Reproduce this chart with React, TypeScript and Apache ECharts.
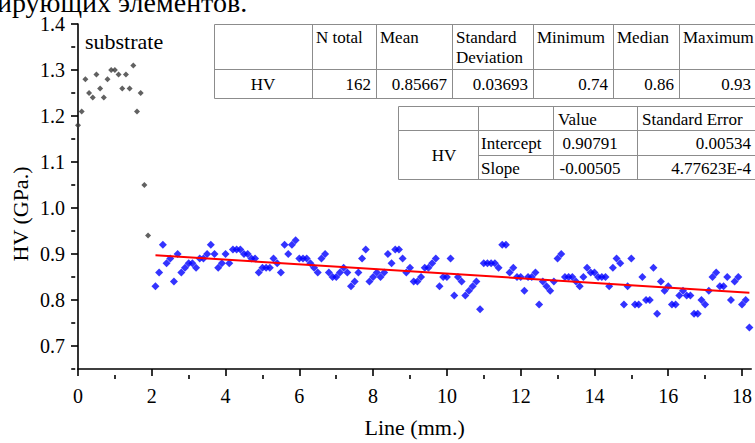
import React, { useEffect, useRef } from 'react';
import * as echarts from 'echarts';

const SERIF = "'Liberation Serif', 'Times New Roman', Times, serif";

// Substrate measurements (grey points)
const SUBSTRATE_X = [0, 0.1, 0.2, 0.3, 0.4, 0.5, 0.6, 0.7, 0.8, 0.9, 1.0, 1.1, 1.2, 1.3, 1.4, 1.5, 1.6, 1.7, 1.8, 1.9];
const SUBSTRATE_HV = [1.18, 1.21, 1.28, 1.25, 1.24, 1.29, 1.26, 1.24, 1.28, 1.30, 1.30, 1.29, 1.26, 1.29, 1.26, 1.31, 1.21, 1.25, 1.05, 0.94];

// Coating measurements (blue points), sampled every 0.1 mm from 2.1 mm
const COATING_X_START = 2.1;
const COATING_X_STEP = 0.1;
const COATING_HV = [
  0.83, 0.86, 0.92, 0.88, 0.89, 0.84, 0.90, 0.86, 0.87,
  0.88, 0.88, 0.87, 0.89, 0.89, 0.90, 0.92, 0.90, 0.87, 0.88,
  0.90, 0.88, 0.91, 0.91, 0.91, 0.90, 0.90, 0.89, 0.89, 0.86,
  0.87, 0.87, 0.87, 0.89, 0.88, 0.86, 0.92, 0.90, 0.92, 0.93,
  0.89, 0.89, 0.89, 0.88, 0.87, 0.86, 0.89, 0.90, 0.86, 0.85,
  0.85, 0.86, 0.87, 0.86, 0.83, 0.84, 0.86, 0.89, 0.91, 0.84,
  0.85, 0.86, 0.85, 0.86, 0.90, 0.88, 0.91, 0.91, 0.89, 0.86,
  0.87, 0.84, 0.84, 0.85, 0.87, 0.87, 0.88, 0.89, 0.83, 0.85,
  0.85, 0.89, 0.81, 0.85, 0.84, 0.81, 0.82, 0.83, 0.84, 0.78,
  0.88, 0.88, 0.88, 0.88, 0.87, 0.92, 0.92, 0.86, 0.87, 0.85,
  0.85, 0.82, 0.85, 0.85, 0.86, 0.79, 0.84, 0.83, 0.82, 0.84,
  0.89, 0.90, 0.85, 0.85, 0.85, 0.84, 0.83, 0.85, 0.87, 0.86,
  0.86, 0.85, 0.85, 0.85, 0.83, 0.87, 0.89, 0.88, 0.79, 0.83,
  0.89, 0.79, 0.79, 0.85, 0.80, 0.80, 0.87, 0.77, 0.84, 0.82,
  0.83, 0.79, 0.79, 0.81, 0.82, 0.81, 0.81, 0.77, 0.77, 0.80,
  0.79, 0.82, 0.85, 0.86, 0.83, 0.83, 0.85, 0.80, 0.84, 0.85,
  0.79, 0.80, 0.74,
];

// Linear fit parameters (from the fit table)
const FIT_INTERCEPT = 0.90791;
const FIT_SLOPE = -0.00505;

// Axes
const X_MIN = 0;
const X_MAX = 18.25;
const Y_MIN = 0.65;
const Y_MAX = 1.4;
const X_TICKS = [0, 2, 4, 6, 8, 10, 12, 14, 16, 18];
const X_MINOR_TICKS = [1, 3, 5, 7, 9, 11, 13, 15, 17];
const Y_TICKS = [0.7, 0.8, 0.9, 1.0, 1.1, 1.2, 1.3, 1.4];
const Y_MINOR_TICKS = [0.65, 0.75, 0.85, 0.95, 1.05, 1.15, 1.25, 1.35];

// Tables
const STATS_HEADER = ['', 'N total', 'Mean', 'Standard\nDeviation', 'Minimum', 'Median', 'Maximum'];
const STATS_ROW = ['HV', '162', '0.85667', '0.03693', '0.74', '0.86', '0.93'];
const FIT_HEADER = ['', '', 'Value', 'Standard Error'];
const FIT_ROW_LABEL = 'HV';
const FIT_ROWS = [
  ['Intercept', '0.90791', '0.00534'],
  ['Slope', '-0.00505', '4.77623E-4'],
];

const TOP_TEXT = 'ирующих элементов.';
const Y_NAME = 'HV (GPa.)';
const X_NAME = 'Line (mm.)';

// Layout
const W = 755;
const H = 443;
const GRID = { left: 78, right: 1, top: 24, bottom: 68 };
const GRID_W = W - GRID.left - GRID.right;
const GRID_H = H - GRID.top - GRID.bottom;

const T1_X = [214, 312, 376, 452, 533, 613, 679, 756];
const T1_Y = [24, 69, 98];
const T2_X = [398, 478, 553, 637, 756];
const T2_Y = [106, 130, 155, 179];

const TABLE_FONT = 17;
const BORDER = '#8c8c8c';

function hLine(x1: number, x2: number, y: number) {
  return { type: 'line', silent: true, z: 101, shape: { x1, y1: y + 0.5, x2, y2: y + 0.5 }, style: { stroke: BORDER, lineWidth: 1 } };
}
function vLine(x: number, y1: number, y2: number) {
  return { type: 'line', silent: true, z: 101, shape: { x1: x + 0.5, y1, x2: x + 0.5, y2 }, style: { stroke: BORDER, lineWidth: 1 } };
}
function txt(text: string, x: number, y: number, align: string, vAlign: string, extra: any = {}) {
  return {
    type: 'text', silent: true, z: 102, x, y,
    style: { text, fill: '#000', fontSize: TABLE_FONT, fontFamily: SERIF, align, verticalAlign: vAlign, lineHeight: 20, ...extra },
  };
}

function buildGraphics() {
  const g: any[] = [];
  // top document text (partly cut by the page edge)
  g.push({
    type: 'text', silent: true, x: -3, y: 16,
    style: { text: TOP_TEXT, fill: '#000', fontSize: 28, fontFamily: SERIF, align: 'left', verticalAlign: 'bottom' },
  });
  // substrate annotation
  g.push({
    type: 'text', silent: true, x: 85, y: 41,
    style: { text: 'substrate', fill: '#000', fontSize: 22, fontFamily: SERIF, align: 'left', verticalAlign: 'middle' },
  });
  // y axis title
  g.push({
    type: 'text', silent: true, x: 20, y: 214, rotation: Math.PI / 2,
    style: { text: Y_NAME, fill: '#000', fontSize: 22, fontFamily: SERIF, align: 'center', verticalAlign: 'middle' },
  });

  // ---- Table 1 (statistics) ----
  const t1x0 = T1_X[0], t1x1 = T1_X[T1_X.length - 1];
  const t1y0 = T1_Y[0], t1y1 = T1_Y[T1_Y.length - 1];
  g.push({ type: 'rect', silent: true, z: 100, shape: { x: t1x0 + 0.5, y: t1y0 + 0.5, width: t1x1 - t1x0, height: t1y1 - t1y0 }, style: { fill: '#fff', stroke: BORDER, lineWidth: 1 } });
  for (let i = 1; i < T1_Y.length - 1; i++) g.push(hLine(t1x0, t1x1, T1_Y[i]));
  for (let i = 1; i < T1_X.length - 1; i++) g.push(vLine(T1_X[i], t1y0, t1y1));
  STATS_HEADER.forEach((h, i) => {
    if (!h) return;
    g.push(txt(h, T1_X[i] + 4, t1y0 + 3, 'left', 'top'));
  });
  STATS_ROW.forEach((v, i) => {
    const yMid = (T1_Y[1] + T1_Y[2]) / 2 + 1;
    if (i === 0) g.push(txt(v, (T1_X[0] + T1_X[1]) / 2, yMid, 'center', 'middle'));
    else g.push(txt(v, T1_X[i + 1] - 5, yMid, 'right', 'middle'));
  });

  // ---- Table 2 (fit parameters) ----
  const t2x0 = T2_X[0], t2x1 = T2_X[T2_X.length - 1];
  const t2y0 = T2_Y[0], t2y1 = T2_Y[T2_Y.length - 1];
  g.push({ type: 'rect', silent: true, z: 100, shape: { x: t2x0 + 0.5, y: t2y0 + 0.5, width: t2x1 - t2x0, height: t2y1 - t2y0 }, style: { fill: '#fff', stroke: BORDER, lineWidth: 1 } });
  g.push(hLine(t2x0, t2x1, T2_Y[1]));
  g.push(hLine(T2_X[1], t2x1, T2_Y[2]));
  for (let i = 1; i < T2_X.length - 1; i++) g.push(vLine(T2_X[i], t2y0, t2y1));
  FIT_HEADER.forEach((h, i) => {
    if (!h) return;
    g.push(txt(h, T2_X[i] + 5, (T2_Y[0] + T2_Y[1]) / 2 + 1, 'left', 'middle'));
  });
  g.push(txt(FIT_ROW_LABEL, (T2_X[0] + T2_X[1]) / 2 + 6, (T2_Y[1] + T2_Y[3]) / 2 + 1, 'center', 'middle'));
  FIT_ROWS.forEach((row, r) => {
    const yMid = (T2_Y[r + 1] + T2_Y[r + 2]) / 2 + 1;
    g.push(txt(row[0], T2_X[1] + 3, yMid, 'left', 'middle'));
    g.push(txt(row[1], (T2_X[2] + T2_X[3]) / 2 - 5, yMid, 'center', 'middle'));
    g.push(txt(row[2], T2_X[4] - 5, yMid, 'right', 'middle'));
  });
  return g;
}

function buildOption() {
  const substrate = SUBSTRATE_X.map((x, i) => [x, SUBSTRATE_HV[i]]);
  const coating = COATING_HV.map((v, i) => [Math.round((COATING_X_START + i * COATING_X_STEP) * 10) / 10, v]);
  const fitX0 = coating[0][0];
  const fitX1 = coating[coating.length - 1][0];
  const fit = [
    [fitX0, FIT_INTERCEPT + FIT_SLOPE * fitX0],
    [fitX1, FIT_INTERCEPT + FIT_SLOPE * fitX1],
  ];
  const axisLineStyle = { color: '#000', width: 1.6 };
  return {
    animation: false,
    backgroundColor: '#ffffff',
    textStyle: { fontFamily: SERIF },
    grid: { left: GRID.left, right: GRID.right, top: GRID.top, bottom: GRID.bottom, containLabel: false },
    xAxis: [
      {
        type: 'value', min: X_MIN, max: X_MAX, interval: 2, position: 'bottom',
        axisLine: { show: true, onZero: false, lineStyle: axisLineStyle },
        axisTick: { show: true, inside: false, length: 7, customValues: X_TICKS, lineStyle: axisLineStyle },
        axisLabel: { show: true, customValues: X_TICKS, formatter: (v: number) => String(v), color: '#000', fontSize: 20, fontFamily: SERIF, margin: 17 },
        splitLine: { show: false },
        name: X_NAME, nameLocation: 'middle', nameGap: 47,
        nameTextStyle: { color: '#000', fontSize: 22, fontFamily: SERIF },
      },
      {
        type: 'value', min: X_MIN, max: X_MAX, interval: 1, position: 'top', offset: -GRID_H,
        axisLine: { show: false, onZero: false },
        axisTick: { show: true, inside: true, length: 4, customValues: X_MINOR_TICKS, lineStyle: axisLineStyle },
        axisLabel: { show: false },
        splitLine: { show: false },
      },
    ],
    yAxis: [
      {
        type: 'value', min: Y_MIN, max: Y_MAX, interval: 0.05, position: 'left',
        axisLine: { show: true, onZero: false, lineStyle: axisLineStyle },
        axisTick: { show: true, inside: false, length: 7, customValues: Y_TICKS, lineStyle: axisLineStyle },
        axisLabel: { show: true, customValues: Y_TICKS, formatter: (v: number) => v.toFixed(1), color: '#000', fontSize: 20, fontFamily: SERIF, margin: 13 },
        splitLine: { show: false },
      },
      {
        type: 'value', min: Y_MIN, max: Y_MAX, interval: 0.05, position: 'right', offset: -GRID_W,
        axisLine: { show: false, onZero: false },
        axisTick: { show: true, inside: true, length: 4, customValues: Y_MINOR_TICKS, lineStyle: axisLineStyle },
        axisLabel: { show: false },
        splitLine: { show: false },
      },
    ],
    series: [
      {
        name: 'substrate', type: 'scatter', xAxisIndex: 0, yAxisIndex: 0,
        data: substrate, symbol: 'diamond', symbolSize: 6,
        itemStyle: { color: '#3a3a3a' }, z: 3,
      },
      {
        name: 'HV', type: 'scatter', xAxisIndex: 0, yAxisIndex: 0,
        data: coating, symbol: 'diamond', symbolSize: 8,
        itemStyle: { color: '#0000ff' }, z: 3,
      },
      {
        name: 'Linear fit', type: 'line', xAxisIndex: 0, yAxisIndex: 0,
        data: fit, symbol: 'none', lineStyle: { color: '#ff0000', width: 2 }, z: 4,
      },
    ],
    graphic: buildGraphics(),
  };
}

export default function App() {
  const ref = useRef<HTMLDivElement>(null);
  useEffect(() => {
    if (!ref.current) return;
    const chart = echarts.init(ref.current, null, { renderer: 'svg' });
    chart.setOption(buildOption() as any);
    return () => chart.dispose();
  }, []);
  return (
    <div
      ref={ref}
      style={{ position: 'fixed', left: 0, top: 0, width: W, height: H, background: '#fff' }}
    />
  );
}
